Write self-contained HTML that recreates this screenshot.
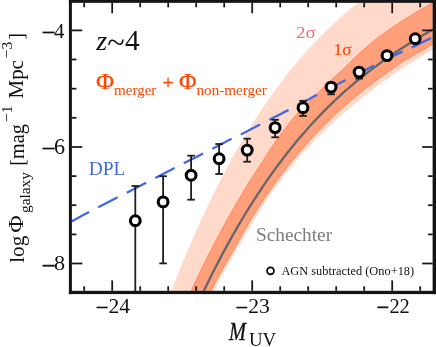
<!DOCTYPE html>
<html><head><meta charset="utf-8"><title>UV luminosity function z~4</title>
<style>
html,body{margin:0;padding:0;background:#fff;}
svg{display:block;will-change:transform;}
text{font-family:"Liberation Serif",serif;}
</style></head><body>
<svg width="436" height="347" viewBox="0 0 436 347">
<rect width="436" height="347" fill="#fff"/>
<defs><clipPath id="c"><rect x="71.9" y="2.85" width="360.70000000000005" height="287.95"/></clipPath></defs>
<g clip-path="url(#c)">
<path d="M160.0 321.1 L163.6 311.4 L167.1 301.9 L170.7 292.6 L174.2 283.5 L177.8 274.5 L181.4 265.7 L184.9 257.1 L188.5 248.6 L192.0 240.4 L195.6 232.3 L199.2 224.3 L202.7 216.6 L206.3 208.9 L209.8 201.5 L213.4 194.2 L216.9 187.1 L220.5 180.1 L224.1 173.2 L227.6 166.5 L231.2 160.0 L234.7 153.6 L238.3 147.3 L241.9 141.2 L245.4 135.2 L249.0 129.4 L252.5 123.6 L256.1 118.0 L259.7 112.6 L263.2 107.2 L266.8 102.0 L270.3 96.9 L273.9 91.9 L277.5 87.1 L281.0 82.3 L284.6 77.7 L288.1 73.1 L291.7 68.7 L295.3 64.4 L298.8 60.1 L302.4 56.0 L305.9 52.0 L309.5 48.0 L313.1 44.2 L316.6 40.4 L320.2 36.8 L323.7 33.2 L327.3 29.7 L330.8 26.3 L334.4 22.9 L338.0 19.6 L341.5 16.4 L345.1 13.3 L348.6 10.3 L352.2 7.3 L355.8 4.4 L359.3 1.5 L362.9 -1.3 L366.4 -4.1 L370.0 -6.7 L445.0 -10.0 L445.0 42.0 L440.9 44.5 L436.9 47.1 L432.8 49.6 L428.7 52.0 L424.7 54.4 L420.6 56.9 L416.5 59.4 L412.5 61.9 L408.4 64.4 L404.3 67.0 L400.3 69.7 L396.2 72.5 L392.1 75.3 L388.1 78.2 L384.0 81.1 L379.9 84.1 L375.8 87.1 L371.8 90.2 L367.7 93.4 L363.6 96.6 L359.6 99.9 L355.5 103.2 L351.4 106.5 L347.4 109.9 L343.3 113.4 L339.2 117.0 L335.2 120.6 L331.1 124.4 L327.0 128.2 L323.0 132.2 L318.9 136.2 L314.8 140.3 L310.8 144.6 L306.7 149.0 L302.6 153.5 L298.6 158.1 L294.5 162.9 L290.4 167.8 L286.4 172.8 L282.3 178.0 L278.2 183.4 L274.2 189.1 L270.1 195.0 L266.0 201.1 L261.9 207.3 L257.9 213.7 L253.8 220.4 L249.7 227.1 L245.7 234.0 L241.6 241.0 L237.5 248.0 L233.5 255.0 L229.4 262.1 L225.3 269.2 L221.3 276.6 L217.2 284.3 L213.1 292.3 L209.1 300.5 L205.0 308.9 Z" fill="#ffa07a" fill-opacity="0.4"/>
<path d="M185.0 304.7 L189.4 294.9 L193.8 285.4 L198.2 276.1 L202.6 267.0 L207.0 258.0 L211.4 249.3 L215.8 240.8 L220.3 232.5 L224.7 224.3 L229.1 216.3 L233.5 208.6 L237.9 201.0 L242.3 193.5 L246.7 186.3 L251.1 179.2 L255.5 172.3 L259.9 165.5 L264.3 158.8 L268.7 151.9 L273.1 145.2 L277.5 138.7 L281.9 132.7 L286.4 126.9 L290.8 121.3 L295.2 115.9 L299.6 111.1 L304.0 106.7 L308.4 102.3 L312.8 97.8 L317.2 93.5 L321.6 89.3 L326.0 85.1 L330.4 80.9 L334.8 76.9 L339.2 72.8 L343.6 68.7 L348.1 64.4 L352.5 60.0 L356.9 55.6 L361.3 51.6 L365.7 47.7 L370.1 44.0 L374.5 40.4 L378.9 37.1 L383.3 33.9 L387.7 30.7 L392.1 27.7 L396.5 24.7 L400.9 21.8 L405.3 19.0 L409.7 16.2 L414.2 13.5 L418.6 10.8 L423.0 8.2 L427.4 5.7 L431.8 3.2 L436.2 0.8 L440.6 -1.6 L445.0 -3.9 L445.0 36.8 L440.9 39.3 L436.9 41.8 L432.8 44.2 L428.7 46.6 L424.7 48.9 L420.6 51.2 L416.5 53.6 L412.5 55.9 L408.4 58.3 L404.3 60.8 L400.3 63.4 L396.2 66.2 L392.1 69.0 L388.1 71.9 L384.0 74.8 L379.9 77.7 L375.8 80.7 L371.8 83.8 L367.7 86.9 L363.6 90.1 L359.6 93.4 L355.5 96.7 L351.4 100.1 L347.4 103.6 L343.3 107.2 L339.2 110.8 L335.2 114.6 L331.1 118.4 L327.0 122.4 L323.0 126.4 L318.9 130.6 L314.8 134.8 L310.8 139.2 L306.7 143.7 L302.6 148.3 L298.6 153.0 L294.5 157.9 L290.4 162.9 L286.4 168.1 L282.3 173.3 L278.2 178.8 L274.2 184.3 L270.1 190.0 L266.0 195.9 L261.9 201.9 L257.9 208.2 L253.8 214.7 L249.7 221.4 L245.7 228.4 L241.6 235.5 L237.5 242.7 L233.5 249.9 L229.4 257.0 L225.3 264.1 L221.3 271.2 L217.2 278.7 L213.1 286.6 L209.1 295.1 L205.0 303.7 Z" fill="#ffa07a"/>
<path d="M185.0 304.7 L189.4 294.9 L193.8 285.4 L198.2 276.1 L202.6 267.0 L207.0 258.0 L211.4 249.3 L215.8 240.8 L220.3 232.5 L224.7 224.3 L229.1 216.3 L233.5 208.6 L237.9 201.0 L242.3 193.5 L246.7 186.3 L251.1 179.2 L255.5 172.3 L259.9 165.5 L264.3 158.8 L268.7 151.9 L273.1 145.2 L277.5 138.7 L281.9 132.7 L286.4 126.9 L290.8 121.3 L295.2 115.9 L299.6 111.1 L304.0 106.7 L308.4 102.3 L312.8 97.8 L317.2 93.5 L321.6 89.3 L326.0 85.1 L330.4 80.9 L334.8 76.9 L339.2 72.8 L343.6 68.7 L348.1 64.4 L352.5 60.0 L356.9 55.6 L361.3 51.6 L365.7 47.7 L370.1 44.0 L374.5 40.4 L378.9 37.1 L383.3 33.9 L387.7 30.7 L392.1 27.7 L396.5 24.7 L400.9 21.8 L405.3 19.0 L409.7 16.2 L414.2 13.5 L418.6 10.8 L423.0 8.2 L427.4 5.7 L431.8 3.2 L436.2 0.8 L440.6 -1.6 L445.0 -3.9 " fill="none" stroke="#ff7f50" stroke-width="1" stroke-opacity="0.85"/>
<path d="M205.0 303.7 L209.1 295.1 L213.1 286.6 L217.2 278.7 L221.3 271.2 L225.3 264.1 L229.4 257.0 L233.5 249.9 L237.5 242.7 L241.6 235.5 L245.7 228.4 L249.7 221.4 L253.8 214.7 L257.9 208.2 L261.9 201.9 L266.0 195.9 L270.1 190.0 L274.2 184.3 L278.2 178.8 L282.3 173.3 L286.4 168.1 L290.4 162.9 L294.5 157.9 L298.6 153.0 L302.6 148.3 L306.7 143.7 L310.8 139.2 L314.8 134.8 L318.9 130.6 L323.0 126.4 L327.0 122.4 L331.1 118.4 L335.2 114.6 L339.2 110.8 L343.3 107.2 L347.4 103.6 L351.4 100.1 L355.5 96.7 L359.6 93.4 L363.6 90.1 L367.7 86.9 L371.8 83.8 L375.8 80.7 L379.9 77.7 L384.0 74.8 L388.1 71.9 L392.1 69.0 L396.2 66.2 L400.3 63.4 L404.3 60.8 L408.4 58.3 L412.5 55.9 L416.5 53.6 L420.6 51.2 L424.7 48.9 L428.7 46.6 L432.8 44.2 L436.9 41.8 L440.9 39.3 L445.0 36.8 " fill="none" stroke="#ff7f50" stroke-width="1" stroke-opacity="0.85"/>
<path d="M195.0 309.7 L199.2 300.5 L203.5 291.6 L207.7 282.9 L211.9 274.3 L216.2 266.0 L220.4 257.9 L224.7 249.9 L228.9 242.2 L233.1 234.6 L237.4 227.2 L241.6 220.0 L245.8 213.0 L250.1 206.2 L254.3 199.5 L258.6 193.0 L262.8 186.6 L267.0 180.4 L271.3 174.4 L275.5 168.5 L279.7 162.8 L284.0 157.2 L288.2 151.8 L292.5 146.5 L296.7 141.3 L300.9 136.3 L305.2 131.4 L309.4 126.6 L313.6 122.0 L317.9 117.5 L322.1 113.1 L326.4 108.8 L330.6 104.6 L334.8 100.5 L339.1 96.6 L343.3 92.7 L347.5 89.0 L351.8 85.3 L356.0 81.7 L360.3 78.3 L364.5 74.9 L368.7 71.6 L373.0 68.3 L377.2 65.2 L381.4 62.1 L385.7 59.1 L389.9 56.2 L394.2 53.3 L398.4 50.5 L402.6 47.7 L406.9 45.0 L411.1 42.4 L415.3 39.8 L419.6 37.2 L423.8 34.7 L428.1 32.2 L432.3 29.8 L436.5 27.3 L440.8 25.0 L445.0 22.6 " fill="none" stroke="#62676b" stroke-width="2.3"/>
<path d="M69.8 222.2 L73.7 220.2 L77.5 218.2 L81.4 216.1 L85.2 214.1 L89.1 212.1 M98.3 207.3 L102.2 205.3 L106.0 203.3 L109.9 201.3 L113.7 199.3 L117.6 197.3 M126.8 192.8 L130.7 190.8 L134.5 188.8 L138.4 186.8 L142.2 184.8 L146.1 182.8 M155.3 178.1 L159.2 176.1 L163.0 174.1 L166.9 172.1 L170.7 170.1 L174.6 168.1 M183.8 163.3 L187.7 161.3 L191.5 159.4 L195.4 157.4 L199.2 155.4 L203.1 153.4 M212.3 148.7 L216.2 146.7 L220.0 144.7 L223.9 142.7 L227.7 140.8 L231.6 138.8 M240.8 134.4 L244.7 132.4 L248.5 130.4 L252.4 128.4 L256.2 126.5 L260.1 124.5 M269.3 119.8 L273.2 117.8 L277.0 115.9 L280.9 113.9 L284.7 111.9 L288.6 110.0 M297.8 105.1 L301.7 102.9 L305.5 100.9 L309.4 98.9 L313.2 96.8 L317.1 94.8 M326.3 90.1 L330.2 88.1 L334.0 86.1 L337.9 84.1 L341.7 82.1 L345.6 80.1 M354.8 75.4 L358.7 73.4 L362.5 71.5 L366.4 69.5 L370.2 67.5 L374.1 65.6 M383.3 60.9 L387.2 59.0 L391.0 57.1 L394.9 55.3 L398.7 53.4 L402.6 51.6 M411.8 47.5 L415.7 45.6 L419.5 43.7 L423.4 41.8 L427.2 39.9 L431.1 38.0 " fill="none" stroke="#4169e1" stroke-width="2.3"/>
</g>
<g stroke="#1e1e1e" stroke-width="1.8" fill="none"><line x1="135.3" y1="186.0" x2="135.3" y2="292.0"/><line x1="131.5" y1="186.0" x2="139.1" y2="186.0"/><line x1="163.1" y1="176.2" x2="163.1" y2="263.4"/><line x1="159.3" y1="176.2" x2="166.9" y2="176.2"/><line x1="159.3" y1="263.4" x2="166.9" y2="263.4"/><line x1="191.1" y1="155.7" x2="191.1" y2="199.7"/><line x1="187.3" y1="155.7" x2="194.9" y2="155.7"/><line x1="187.3" y1="199.7" x2="194.9" y2="199.7"/><line x1="219.1" y1="144.0" x2="219.1" y2="174.0"/><line x1="215.3" y1="144.0" x2="222.9" y2="144.0"/><line x1="215.3" y1="174.0" x2="222.9" y2="174.0"/><line x1="247.2" y1="138.7" x2="247.2" y2="161.7"/><line x1="243.4" y1="138.7" x2="251.0" y2="138.7"/><line x1="243.4" y1="161.7" x2="251.0" y2="161.7"/><line x1="275.1" y1="119.8" x2="275.1" y2="137.3"/><line x1="271.3" y1="119.8" x2="278.9" y2="119.8"/><line x1="271.3" y1="137.3" x2="278.9" y2="137.3"/><line x1="303.0" y1="100.8" x2="303.0" y2="115.9"/><line x1="299.2" y1="100.8" x2="306.8" y2="100.8"/><line x1="299.2" y1="115.9" x2="306.8" y2="115.9"/><line x1="331.1" y1="83.0" x2="331.1" y2="94.3"/><line x1="327.3" y1="83.0" x2="334.9" y2="83.0"/><line x1="327.3" y1="94.3" x2="334.9" y2="94.3"/><line x1="359.1" y1="68.0" x2="359.1" y2="78.6"/><line x1="355.3" y1="68.0" x2="362.9" y2="68.0"/><line x1="355.3" y1="78.6" x2="362.9" y2="78.6"/><line x1="387.0" y1="52.0" x2="387.0" y2="59.0"/><line x1="383.2" y1="52.0" x2="390.8" y2="52.0"/><line x1="383.2" y1="59.0" x2="390.8" y2="59.0"/><line x1="415.2" y1="36.0" x2="415.2" y2="41.0"/><line x1="411.4" y1="36.0" x2="419.0" y2="36.0"/><line x1="411.4" y1="41.0" x2="419.0" y2="41.0"/></g>
<g stroke="#000" stroke-width="3.1" fill="#fff"><circle cx="135.3" cy="220.7" r="4.9"/><circle cx="163.1" cy="201.9" r="4.9"/><circle cx="191.1" cy="175.3" r="4.9"/><circle cx="219.1" cy="158.7" r="4.9"/><circle cx="247.2" cy="150.1" r="4.9"/><circle cx="275.1" cy="127.6" r="4.9"/><circle cx="303.0" cy="107.7" r="4.9"/><circle cx="331.1" cy="87.1" r="4.9"/><circle cx="359.1" cy="72.1" r="4.9"/><circle cx="387.0" cy="55.6" r="4.9"/><circle cx="415.2" cy="38.7" r="4.9"/></g>
<g fill="#151515">
<rect x="68.9" y="0" width="3.0" height="294.1"/>
<rect x="68.9" y="0" width="367.1" height="2.85"/>
<rect x="68.9" y="290.8" width="367.1" height="3.3000000000000114"/>
<rect x="432.6" y="0" width="3.3999999999999773" height="294.1"/>
</g>
<g stroke="#151515" stroke-width="1.75"><line x1="112.2" y1="280.4" x2="112.2" y2="290.8"/><line x1="112.2" y1="2.9" x2="112.2" y2="13.2"/><line x1="252.2" y1="280.4" x2="252.2" y2="290.8"/><line x1="252.2" y1="2.9" x2="252.2" y2="13.2"/><line x1="392.2" y1="280.4" x2="392.2" y2="290.8"/><line x1="392.2" y1="2.9" x2="392.2" y2="13.2"/><line x1="84.2" y1="286.3" x2="84.2" y2="290.8"/><line x1="84.2" y1="2.9" x2="84.2" y2="7.3"/><line x1="140.2" y1="286.3" x2="140.2" y2="290.8"/><line x1="140.2" y1="2.9" x2="140.2" y2="7.3"/><line x1="168.2" y1="286.3" x2="168.2" y2="290.8"/><line x1="168.2" y1="2.9" x2="168.2" y2="7.3"/><line x1="196.2" y1="286.3" x2="196.2" y2="290.8"/><line x1="196.2" y1="2.9" x2="196.2" y2="7.3"/><line x1="224.2" y1="286.3" x2="224.2" y2="290.8"/><line x1="224.2" y1="2.9" x2="224.2" y2="7.3"/><line x1="280.2" y1="286.3" x2="280.2" y2="290.8"/><line x1="280.2" y1="2.9" x2="280.2" y2="7.3"/><line x1="308.2" y1="286.3" x2="308.2" y2="290.8"/><line x1="308.2" y1="2.9" x2="308.2" y2="7.3"/><line x1="336.2" y1="286.3" x2="336.2" y2="290.8"/><line x1="336.2" y1="2.9" x2="336.2" y2="7.3"/><line x1="364.2" y1="286.3" x2="364.2" y2="290.8"/><line x1="364.2" y1="2.9" x2="364.2" y2="7.3"/><line x1="420.2" y1="286.3" x2="420.2" y2="290.8"/><line x1="420.2" y1="2.9" x2="420.2" y2="7.3"/><line x1="71.9" y1="30.4" x2="82.3" y2="30.4"/><line x1="422.2" y1="30.4" x2="432.6" y2="30.4"/><line x1="71.9" y1="147.0" x2="82.3" y2="147.0"/><line x1="422.2" y1="147.0" x2="432.6" y2="147.0"/><line x1="71.9" y1="263.5" x2="82.3" y2="263.5"/><line x1="422.2" y1="263.5" x2="432.6" y2="263.5"/><line x1="71.9" y1="59.5" x2="76.4" y2="59.5"/><line x1="428.1" y1="59.5" x2="432.6" y2="59.5"/><line x1="71.9" y1="88.7" x2="76.4" y2="88.7"/><line x1="428.1" y1="88.7" x2="432.6" y2="88.7"/><line x1="71.9" y1="117.8" x2="76.4" y2="117.8"/><line x1="428.1" y1="117.8" x2="432.6" y2="117.8"/><line x1="71.9" y1="176.1" x2="76.4" y2="176.1"/><line x1="428.1" y1="176.1" x2="432.6" y2="176.1"/><line x1="71.9" y1="205.2" x2="76.4" y2="205.2"/><line x1="428.1" y1="205.2" x2="432.6" y2="205.2"/><line x1="71.9" y1="234.4" x2="76.4" y2="234.4"/><line x1="428.1" y1="234.4" x2="432.6" y2="234.4"/></g>
<text transform="translate(95.96,88.80) scale(1.2388,1.1538)" font-size="20" fill="#ff4500" stroke="#ff4500" stroke-width="0.22" vector-effect="non-scaling-stroke">Φ</text>
<text transform="translate(114.10,94.90) scale(0.7518,0.7518)" font-size="20" fill="#ff4500">merger</text>
<text transform="translate(162.51,89.10) scale(0.9894,0.9894)" font-size="20" fill="#ff4500" stroke="#ff4500" stroke-width="0.35" vector-effect="non-scaling-stroke">+</text>
<text transform="translate(178.88,88.90) scale(1.2015,1.1538)" font-size="20" fill="#ff4500" stroke="#ff4500" stroke-width="0.22" vector-effect="non-scaling-stroke">Φ</text>
<text transform="translate(196.50,94.60) scale(0.7576,0.7576)" font-size="20" fill="#ff4500">non-merger</text>
<text transform="translate(88.72,174.50) scale(0.9722,0.9000)" font-size="20" fill="#4169e1">DPL</text>
<text transform="translate(255.95,241.22) scale(0.9663,0.9577)" font-size="20" fill="#7c7c7c">Schechter</text>
<text transform="translate(295.93,37.73) scale(0.9592,0.8561)" font-size="20" fill="#ea727c">2σ</text>
<text transform="translate(333.51,54.94) scale(0.8817,0.7985)" font-size="20" fill="#ff4500" stroke="#ff4500" stroke-width="0.08" vector-effect="non-scaling-stroke">1σ</text>
<text transform="translate(281.38,274.90) scale(0.6195,0.6195)" font-size="20" fill="#111">AGN subtracted (Ono+18)</text>
<text transform="translate(108.44,312.90) scale(1.0798,1.0692)" font-size="20" fill="#111"><tspan x="-11.66" y="2.08" font-size="21.28" stroke="#111" stroke-width="0.35">−</tspan><tspan x="0" y="0">24</tspan></text>
<text transform="translate(248.13,312.89) scale(1.0815,1.0682)" font-size="20" fill="#111"><tspan x="-11.80" y="1.94" font-size="20.85" stroke="#111" stroke-width="0.35">−</tspan><tspan x="0" y="0">23</tspan></text>
<text transform="translate(389.38,312.90) scale(1.0222,1.0692)" font-size="20" fill="#111"><tspan x="-12.63" y="2.34" font-size="22.06" stroke="#111" stroke-width="0.35">−</tspan><tspan x="0" y="0">22</tspan></text>
<text transform="translate(53.88,37.70) scale(1.0435,1.0692)" font-size="20" fill="#111"><tspan x="-11.73" y="2.92" font-size="24.06" stroke="#111" stroke-width="0.35">−</tspan><tspan x="0" y="0">4</tspan></text>
<text transform="translate(54.12,154.16) scale(1.1047,1.1119)" font-size="20" fill="#111"><tspan x="-11.48" y="2.86" font-size="22.92" stroke="#111" stroke-width="0.35">−</tspan><tspan x="0" y="0">6</tspan></text>
<text transform="translate(54.11,270.46) scale(1.1071,1.0970)" font-size="20" fill="#111"><tspan x="-11.45" y="2.87" font-size="22.87" stroke="#111" stroke-width="0.35">−</tspan><tspan x="0" y="0">8</tspan></text>
<text transform="translate(229.00,339.60) scale(1.0169,1.2538)" font-size="20" fill="#111" font-style="italic" stroke="#111" stroke-width="0.3" vector-effect="non-scaling-stroke">M</text>
<text transform="translate(248.92,345.84) scale(0.9433,0.9104)" font-size="20" fill="#111">UV</text>
<text fill="#111"><tspan x="96.28" y="50.40" font-size="27.95" font-style="italic">z</tspan><tspan x="107.23" y="52.60" font-size="32.29">~</tspan><tspan x="124.91" y="50.40" font-size="29.35">4</tspan></text>
<text transform="translate(23.97,262.83) rotate(-90) scale(1.0645,1.0778)" font-size="20" fill="#111">log</text>
<text transform="translate(23.10,232.72) rotate(-90) scale(1.1940,1.0923)" font-size="20" fill="#111">Φ</text>
<text transform="translate(29.82,213.02) rotate(-90) scale(0.7691,0.7333)" font-size="20" fill="#111">galaxy</text>
<text transform="translate(23.52,165.71) rotate(-90) scale(1.0102,1.0667)" font-size="20" fill="#111">[mag</text>
<text transform="translate(11.90,121.97) rotate(-90) scale(0.7737,0.7727)" font-size="20" fill="#111">−1</text>
<text transform="translate(23.43,98.43) rotate(-90) scale(1.0452,1.0872)" font-size="20" fill="#111">Mpc</text>
<text transform="translate(11.84,58.18) rotate(-90) scale(0.7806,0.7803)" font-size="20" fill="#111">−3</text>
<text transform="translate(23.29,39.82) rotate(-90) scale(1.0227,1.0427)" font-size="20" fill="#111">]</text>
<circle cx="270.5" cy="270.8" r="3.45" fill="#fff" stroke="#000" stroke-width="1.8"/>
</svg>
</body></html>
